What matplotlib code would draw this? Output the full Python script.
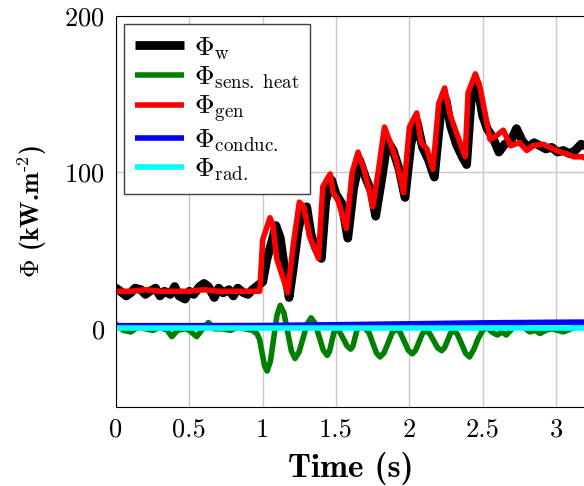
import numpy as np
import matplotlib
matplotlib.use('Agg')
import matplotlib.pyplot as plt

plt.rcParams['font.family'] = 'serif'
plt.rcParams['font.serif'] = ['cmr10']
plt.rcParams['mathtext.fontset'] = 'cm'
plt.rcParams['axes.formatter.use_mathtext'] = True

# Phi_w (black)
t_w = [0, 0.03, 0.07, 0.1, 0.13, 0.17, 0.2, 0.23, 0.27, 0.3, 0.33, 0.37, 0.4, 0.43, 0.47,
       0.5, 0.53, 0.57, 0.6, 0.63, 0.67, 0.7, 0.73, 0.77, 0.8, 0.83, 0.87, 0.9, 0.93, 0.97,
       1.0, 1.03, 1.06, 1.09, 1.12, 1.15, 1.18, 1.21, 1.24, 1.27, 1.30, 1.33, 1.36, 1.40,
       1.43, 1.47, 1.50, 1.54, 1.58, 1.62, 1.66, 1.70, 1.74, 1.77, 1.81, 1.85, 1.89, 1.93,
       1.97, 2.01, 2.05, 2.09, 2.13, 2.17, 2.21, 2.25, 2.28, 2.32, 2.36, 2.39, 2.42, 2.46,
       2.50, 2.53, 2.57, 2.61, 2.65, 2.69, 2.73, 2.77, 2.81, 2.85, 2.89, 2.93, 2.97, 3.01,
       3.05, 3.09, 3.13, 3.17, 3.2]
phi_w = [26, 24, 21, 23, 26, 25, 22, 24, 26, 21, 24, 22, 27, 21, 19,
         24, 22, 27, 29, 27, 20, 26, 23, 25, 21, 26, 23, 22, 25, 28,
         30, 45, 55, 66, 58, 38, 20, 40, 62, 76, 78, 60, 52, 45,
         82, 95, 86, 80, 58, 90, 108, 97, 88, 72, 95, 120, 114, 102,
         84, 118, 133, 116, 108, 97, 135, 146, 130, 118, 110, 105, 145, 157,
         136, 128, 122, 113, 118, 120, 128, 120, 116, 119, 117, 115, 116, 113,
         114, 112, 114, 118, 117]

# Phi_sens. heat (green)
t_s = [0, 0.05, 0.1, 0.15, 0.2, 0.25, 0.3, 0.35, 0.38, 0.42, 0.47, 0.5, 0.55, 0.6, 0.63,
       0.67, 0.72, 0.78, 0.83, 0.88, 0.93, 0.96, 0.978, 0.995, 1.012, 1.03, 1.052, 1.075,
       1.098, 1.12, 1.145, 1.17, 1.195, 1.22, 1.247, 1.275, 1.302, 1.33, 1.357, 1.385,
       1.412, 1.44, 1.455, 1.47, 1.485, 1.50, 1.525, 1.55, 1.575, 1.60, 1.615, 1.63, 1.645,
       1.66, 1.70, 1.725, 1.75, 1.775, 1.80, 1.827, 1.855, 1.882, 1.91, 1.937, 1.965, 1.992,
       2.02, 2.042, 2.065, 2.088, 2.11, 2.137, 2.165, 2.192, 2.22, 2.24, 2.26, 2.28, 2.30,
       2.327, 2.355, 2.382, 2.41, 2.44, 2.47, 2.50, 2.53, 2.56, 2.60, 2.63, 2.66, 2.70,
       2.74, 2.78, 2.82, 2.86, 2.89, 2.93, 2.97, 3.01, 3.05, 3.10, 3.14, 3.2]
phi_s = [3, -1, -2, 1, 0, -1, 1, -1, -5, -1, 0, -1, -5, 1, 4,
         0, 0, -1, 1, 0, -1, -3, -6.5, -15, -23.5, -27, -21, -6,
         9, 15, 10, -2, -14, -19, -15, -6, 3, 7, 3.5, -5,
         -13.5, -17, -14.5, -8.5, -2.5, 0, -2, -6.5, -11, -13, -11, -5.5, 0,
         2, 0, -2.6, -9, -15.4, -18, -15.4, -9, -2.6, 0, -2.3, -8, -13.7,
         -16, -13.8, -8.5, -3.2, -1, -2.9, -7.5, -12.1, -14, -12.1, -7.5, -2.9, -1,
         -3.5, -9.5, -15.5, -18, -13, -6, -1, 1, -2, -4, -2, -4, 0,
         3, 1, -2, -1, -3, -1, 0, -1, -2, 0, 1, 1]

# Phi_gen (red)
t_g = [0, 0.1, 0.2, 0.3, 0.4, 0.5, 0.6, 0.7, 0.8, 0.9, 0.96, 0.98, 1.0, 1.05, 1.07,
       1.095, 1.14, 1.17, 1.21, 1.25, 1.28, 1.32, 1.38, 1.41, 1.46, 1.48, 1.51, 1.57,
       1.61, 1.65, 1.69, 1.72, 1.75, 1.79, 1.83, 1.87, 1.91, 1.96, 2.0, 2.05, 2.08, 2.12,
       2.16, 2.2, 2.24, 2.28, 2.33, 2.38, 2.40, 2.45, 2.48, 2.52, 2.55, 2.60, 2.64, 2.69,
       2.75, 2.80, 2.84, 2.91, 2.98, 3.03, 3.07, 3.12, 3.18, 3.2]
phi_g = [24, 24, 25, 24, 24, 24, 25, 24, 24, 24, 24, 24, 57, 71, 66,
         45, 32, 23, 55, 81, 78, 59, 45, 91, 99, 87, 83, 64,
         100, 113, 102, 91, 78, 102, 129, 119, 108, 87, 129, 138, 119, 115,
         102, 144, 154, 136, 123, 110, 151, 163, 155, 136, 121, 124, 127, 117,
         119, 114, 117, 118, 115, 113, 112, 110, 110, 109]

# Phi_conduc. (blue)
t_c = [0, 0.5, 1.0, 1.5, 2.0, 2.5, 3.0, 3.2]
phi_c = [2.0, 2.0, 2.1, 2.6, 3.2, 3.8, 4.2, 4.3]

# Phi_rad. (cyan)
t_r = [0, 1.0, 2.0, 3.2]
phi_r = [0.5, 0.5, 0.5, 0.5]

fig = plt.figure(figsize=(5.84, 4.86), dpi=100)
ax = fig.add_axes([116 / 584, 79 / 486, 470 / 584, 391 / 486])

kw = dict(solid_joinstyle='round', solid_capstyle='round')
ax.plot(t_w, phi_w, color='black', lw=6.3, label=r'$\Phi_{\rm w}$', **kw)
ax.plot(t_s, phi_s, color='#007f00', lw=4.0, label=r'$\Phi_{\rm sens.\ heat}$', **kw)
ax.plot(t_g, phi_g, color='red', lw=4.0, label=r'$\Phi_{\rm gen}$', **kw)
ax.plot(t_c, phi_c, color='blue', lw=4.0, label=r'$\Phi_{\rm conduc.}$', **kw)
ax.plot(t_r, phi_r, color='cyan', lw=4.0, label=r'$\Phi_{\rm rad.}$', **kw)

ax.set_xlim(0, 470 / 146.7)
ax.set_ylim(-50, 200)
ax.set_xticks([0, 0.5, 1, 1.5, 2, 2.5, 3])
ax.set_xticklabels(['0', '0.5', '1', '1.5', '2', '2.5', '3'])
ax.set_yticks([0, 100, 200])
ax.tick_params(length=0, labelsize=19, pad=8)
ax.grid(True, color='#c8c8c8', lw=1.0)
ax.set_axisbelow(True)
ax.spines['right'].set_visible(False)

ax.set_xlabel('Time (s)', fontfamily='cmb10', fontsize=24, labelpad=7)
ax.set_ylabel(r'$\Phi$ (kW.m$^{\mathbf{\text{-}2}}$)', fontfamily='cmb10', fontsize=18.5, labelpad=11)

leg = ax.legend(loc='upper left', fontsize=19.5, fancybox=False, framealpha=1,
                edgecolor='#404040', handlelength=1.8, handletextpad=0.37,
                labelspacing=0.1, borderaxespad=0.3)
leg.get_frame().set_linewidth(1.0)
for line in leg.get_lines():
    line.set_solid_capstyle('butt')

fig.savefig('out.png', dpi=100)
